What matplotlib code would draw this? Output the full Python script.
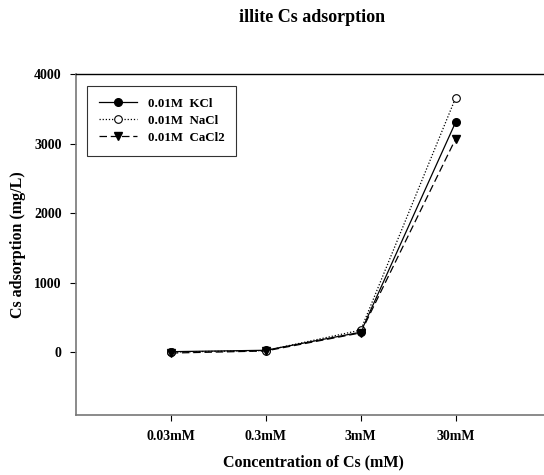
import matplotlib
matplotlib.use("Agg")
import matplotlib.pyplot as plt
import numpy as np

conc_labels = ["0.03mM", "0.3mM", "3mM", "30mM"]
kcl = [10, 30, 290, 3310]
nacl = [5, 25, 320, 3660]
cacl2 = [-10, 20, 280, 3070]

plt.rcParams["font.family"] = ["Liberation Serif", "DejaVu Serif"]
plt.rcParams["font.weight"] = "bold"

fig = plt.figure(figsize=(5.44, 4.75), dpi=100)
ax = fig.add_axes([75.7 / 544, 1 - 415 / 475, 475 / 544, (415 - 74) / 475])

x = np.arange(len(conc_labels))
ax.plot(x, kcl, color="black", lw=0.9, ls="-", marker="o", ms=5.5,
        mfc="black", mec="black", label="0.01M  KCl")
ax.plot(x, nacl, color="black", lw=0.9, ls=(0, (1, 1.5)), marker="o", ms=5.5,
        mfc="white", mec="black", mew=0.8, label="0.01M  NaCl")
ax.plot(x, cacl2, color="black", lw=0.9, ls=(0, (6, 3)), marker="v", ms=5.5,
        mfc="black", mec="black", label="0.01M  CaCl2")

ax.set_xlim(-1, 4)
ax.set_ylim(-900, 4000)
ax.set_xticks(x)
ax.set_xticklabels(conc_labels)
ax.set_yticks([0, 1000, 2000, 3000, 4000])
ax.tick_params(axis="both", direction="out", length=4, width=0.8,
               labelsize=10)
ax.tick_params(axis="x", pad=7)
ax.tick_params(axis="y", pad=6)
for lab in ax.get_xticklabels() + ax.get_yticklabels():
    lab.set_fontweight("bold")

ax.spines["right"].set_visible(False)
ax.spines["top"].set_color("black")
ax.spines["top"].set_linewidth(1.0)
ax.spines["left"].set_color("#777777")
ax.spines["bottom"].set_color("#777777")
ax.spines["left"].set_linewidth(1.2)
ax.spines["bottom"].set_linewidth(1.2)

ax.set_xlabel("Concentration of Cs (mM)", fontsize=11.5, fontweight="bold",
              labelpad=8)
ax.set_ylabel("Cs adsorption (mg/L)", fontsize=11.5, fontweight="bold",
              labelpad=6)
fig.text(312 / 544, 1 - 17 / 475, "illite Cs adsorption", ha="center",
         va="center", fontsize=13, fontweight="bold")

leg = ax.legend(loc="upper left", bbox_to_anchor=(0.024, 0.965), fontsize=9.3,
                frameon=True, fancybox=False, edgecolor="black",
                borderaxespad=0, handlelength=3.0, borderpad=0.9,
                labelspacing=0.4, handletextpad=0.8)
leg.get_frame().set_linewidth(0.8)
for t in leg.get_texts():
    t.set_fontweight("bold")

fig.savefig("out.png", dpi=100)
